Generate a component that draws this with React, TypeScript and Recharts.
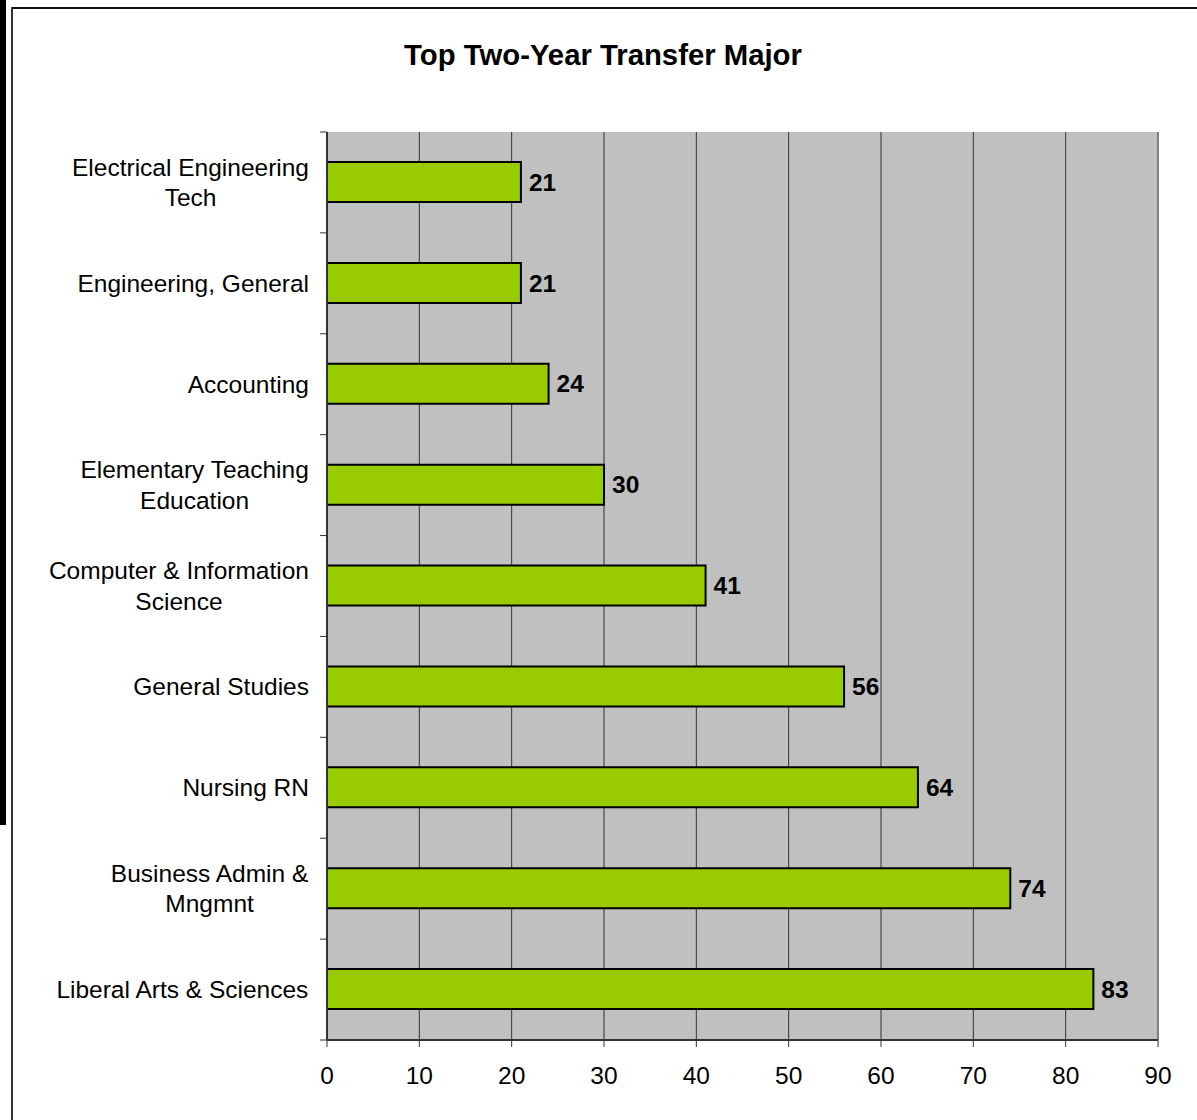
import React from 'react';
import { BarChart, Bar, XAxis, YAxis, CartesianGrid, LabelList, ReferenceLine } from 'recharts';

const majors = [
  'Electrical Engineering\nTech',
  'Engineering, General',
  'Accounting',
  'Elementary Teaching\nEducation',
  'Computer & Information\nScience',
  'General Studies',
  'Nursing RN',
  'Business Admin &\nMngmnt',
  'Liberal Arts & Sciences',
];
const transfers = [21, 21, 24, 30, 41, 56, 64, 74, 83];
const xTicks = [0, 10, 20, 30, 40, 50, 60, 70, 80, 90];

const FONT = "Arial, 'Liberation Sans', sans-serif";
const LABEL_SIZE = 24.5;
const TICK_GAP = 18;

const rows = majors.map((name, i) => ({ name, value: transfers[i] }));

let ctx: CanvasRenderingContext2D | null = null;
const measure = (s: string, size: number) => {
  if (!ctx) ctx = document.createElement('canvas').getContext('2d');
  if (!ctx) return s.length * size * 0.5;
  ctx.font = `${size}px 'Liberation Sans', Arial`;
  return ctx.measureText(s).width;
};

// Excel style: lines centred on each other, block right-aligned to the axis,
// tick marks sit between the categories instead of at their centres
const CategoryTick = (props: any) => {
  const { x, y, payload, index, height, visibleTicksCount } = props;
  const lines = String(payload.value).split('\n');
  const w = Math.max(...lines.map((l) => measure(l, LABEL_SIZE)));
  const cx = x - w / 2;
  const lh = 30.5;
  const band = height && visibleTicksCount ? height / visibleTicksCount : (payload.offset || 0) * 2;
  const ax = x + TICK_GAP;
  return (
    <g>
      <line x1={ax - 7} x2={ax} y1={y - band / 2} y2={y - band / 2} stroke="#333" />
      {index === visibleTicksCount - 1 && (
        <line x1={ax - 7} x2={ax} y1={y + band / 2} y2={y + band / 2} stroke="#333" />
      )}
      <text x={cx} y={y} textAnchor="middle" fill="#000" fontSize={LABEL_SIZE} fontFamily={FONT}>
        {lines.map((l, i) => (
          <tspan key={i} x={cx} y={y + (i - (lines.length - 1) / 2) * lh} dy="0.35em">
            {l}
          </tspan>
        ))}
      </text>
    </g>
  );
};

export default function App() {
  return (
    <div style={{ position: 'fixed', left: 0, top: 0, width: 1197, height: 1120, background: '#fff', overflow: 'hidden' }}>
      <svg width={1197} height={1120} style={{ position: 'absolute', left: 0, top: 0 }}>
        <rect x={0} y={0} width={6} height={825} fill="#000" />
        <line x1={12} y1={8} x2={1197} y2={8} stroke="#111" strokeWidth={2} />
        <line x1={12} y1={7} x2={12} y2={1120} stroke="#333" strokeWidth={2} />
        <text x={603} y={65} textAnchor="middle" fontFamily={FONT} fontSize={29.3} fontWeight="bold" fill="#000">
          Top Two-Year Transfer Major
        </text>
      </svg>
      <div style={{ position: 'absolute', left: 0, top: 0 }}>
        <BarChart
          width={1197}
          height={1120}
          layout="vertical"
          data={rows}
          margin={{ top: 132, right: 39, left: 0, bottom: 20 }}
        >
          <CartesianGrid horizontal={false} fill="#C0C0C0" stroke="#333" strokeOpacity={1} />
          <XAxis
            type="number"
            domain={[0, 90]}
            ticks={xTicks}
            interval={0}
            height={60}
            tickSize={7}
            tickMargin={20}
            axisLine={{ stroke: '#333', strokeWidth: 2 }}
            tickLine={{ stroke: '#333' }}
            tick={{ fill: '#000', fontSize: 24.5, fontFamily: FONT }}
          />
          {/* zero-height top axis, only its line: the grey plot border */}
          <XAxis
            xAxisId="top"
            orientation="top"
            type="number"
            domain={[0, 90]}
            height={0}
            tick={false}
            tickLine={false}
            axisLine={{ stroke: '#808080', strokeWidth: 2 }}
          />
          <YAxis
            dataKey="name"
            type="category"
            width={327}
            interval={0}
            tickLine={false}
            tickSize={0}
            tickMargin={TICK_GAP}
            axisLine={{ stroke: '#333', strokeWidth: 2 }}
            tick={<CategoryTick />}
          />
          <ReferenceLine x={90} stroke="#808080" strokeWidth={2} />
          <Bar dataKey="value" fill="#99CC00" stroke="#000" strokeWidth={2} barSize={40} isAnimationActive={false}>
            <LabelList
              dataKey="value"
              position="right"
              offset={8}
              fill="#000"
              style={{ fontWeight: 'bold', fontSize: 24.5, fontFamily: FONT }}
            />
          </Bar>
        </BarChart>
      </div>
    </div>
  );
}
